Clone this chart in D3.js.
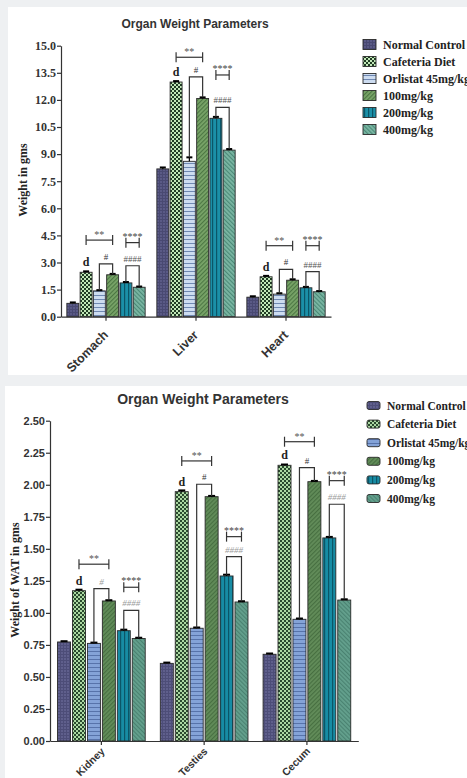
<!DOCTYPE html>
<html><head><meta charset="utf-8">
<script src="https://cdn.jsdelivr.net/npm/d3@7"></script>
<style>
html,body{margin:0;padding:0;background:#eef0f2;}
svg{display:block;}
</style></head><body>
<svg id="c" width="467" height="778"></svg>
<script>
// Treatment groups (legend order)
const seriesNames = ["Normal Control", "Cafeteria Diet", "Orlistat 45mg/kg", "100mg/kg", "200mg/kg", "400mg/kg"];

// Panel A: organ weights (g)
const organsA = ["Stomach", "Liver", "Heart"];
const normalA = [0.74, 8.18, 1.08];
const cafeteriaA = [2.46, 12.99, 2.21];
const orlistatA = [1.43, 8.60, 1.25];
const dose100A = [2.32, 12.08, 2.02];
const dose200A = [1.87, 10.98, 1.60];
const dose400A = [1.63, 9.22, 1.38];
const errA = [[0.05, 0.08, 0.05], [0.05, 0.05, 0.05], [0.04, 0.22, 0.05], [0.05, 0.06, 0.05], [0.05, 0.08, 0.05], [0.04, 0.06, 0.04]];
const ticksA = [0, 1.5, 3, 4.5, 6, 7.5, 9, 10.5, 12, 13.5, 15];
// significance bracket levels (g)
const starLevelA = [4.24, 14.36, 3.93];
const star4LevelA = [4.10, 13.38, 3.93];
const hashLevelA = [2.92, 13.28, 2.62];
const hash4LevelA = [2.82, 11.59, 2.49];

// Panel B: WAT weights (g)
const organsB = ["Kidney", "Testies", "Cecum"];
const normalB = [0.773, 0.606, 0.677];
const cafeteriaB = [1.173, 1.946, 2.152];
const orlistatB = [0.762, 0.880, 0.950];
const dose100B = [1.093, 1.907, 2.024];
const dose200B = [0.861, 1.288, 1.585];
const dose400B = [0.800, 1.085, 1.100];
const errB = [[0.006, 0.006, 0.006], [0.008, 0.010, 0.006], [0.006, 0.006, 0.006], [0.006, 0.006, 0.006], [0.008, 0.010, 0.008], [0.006, 0.006, 0.006]];
const ticksB = [0, 0.25, 0.5, 0.75, 1, 1.25, 1.5, 1.75, 2, 2.25, 2.5];
const starLevelB = [1.38, 2.186, 2.336];
const star4LevelB = [1.20, 1.595, 2.032];
const hashLevelB = [1.19, 2.004, 2.133];
const hash4LevelB = [1.02, 1.439, 1.848];

const svg = d3.select("#c");
svg.append("rect").attr("width", 467).attr("height", 778).attr("fill", "#eef0f2");
const defs = svg.append("defs");

function makePatterns(prefix, c) {
  // Normal control: fine grid texture
  let p = defs.append("pattern").attr("id", prefix + "0").attr("patternUnits", "userSpaceOnUse").attr("width", 3).attr("height", 3);
  p.append("rect").attr("width", 3).attr("height", 3).attr("fill", c.nc);
  p.append("rect").attr("width", 3).attr("height", 1).attr("fill", c.ncLine);
  p.append("rect").attr("width", 1).attr("height", 3).attr("fill", c.ncLine);
  // Cafeteria diet: checkerboard
  p = defs.append("pattern").attr("id", prefix + "1").attr("patternUnits", "userSpaceOnUse").attr("width", 4).attr("height", 4);
  p.append("rect").attr("width", 4).attr("height", 4).attr("fill", c.cdLight);
  p.append("rect").attr("width", 2).attr("height", 2).attr("fill", c.cdDark);
  p.append("rect").attr("x", 2).attr("y", 2).attr("width", 2).attr("height", 2).attr("fill", c.cdDark);
  // Orlistat: horizontal stripes
  p = defs.append("pattern").attr("id", prefix + "2").attr("patternUnits", "userSpaceOnUse").attr("width", 4).attr("height", 4);
  p.append("rect").attr("width", 4).attr("height", 4).attr("fill", c.orl);
  p.append("rect").attr("y", 3).attr("width", 4).attr("height", 1.1).attr("fill", c.orlLine);
  // 100 mg/kg: diagonal hatch
  p = defs.append("pattern").attr("id", prefix + "3").attr("patternUnits", "userSpaceOnUse").attr("width", 3).attr("height", 3).attr("patternTransform", "rotate(45)");
  p.append("rect").attr("width", 3).attr("height", 3).attr("fill", c.d100);
  p.append("rect").attr("width", 1.1).attr("height", 3).attr("fill", c.d100Line);
  // 200 mg/kg: vertical stripes
  p = defs.append("pattern").attr("id", prefix + "4").attr("patternUnits", "userSpaceOnUse").attr("width", 4).attr("height", 4);
  p.append("rect").attr("width", 4).attr("height", 4).attr("fill", c.d200);
  p.append("rect").attr("width", 1.2).attr("height", 4).attr("fill", c.d200Line);
  // 400 mg/kg: opposite diagonal hatch
  p = defs.append("pattern").attr("id", prefix + "5").attr("patternUnits", "userSpaceOnUse").attr("width", 3).attr("height", 3).attr("patternTransform", "rotate(-45)");
  p.append("rect").attr("width", 3).attr("height", 3).attr("fill", c.d400);
  p.append("rect").attr("width", 1.1).attr("height", 3).attr("fill", c.d400Line);
}

makePatterns("pa", {
  nc: "#5a5a86", ncLine: "#494972", cdLight: "#c2e8b8", cdDark: "#203c24",
  orl: "#cddcf0", orlLine: "#6f88b2", d100: "#78a468", d100Line: "#4c7743",
  d200: "#1b90a8", d200Line: "#0b5668", d400: "#7ab6a3", d400Line: "#4c8a78"
});
makePatterns("pb", {
  nc: "#5f5f8c", ncLine: "#4d4d78", cdLight: "#acd8a2", cdDark: "#2a4a2e",
  orl: "#84a3d8", orlLine: "#5773aa", d100: "#628c59", d100Line: "#476f41",
  d200: "#178ca4", d200Line: "#0b5668", d400: "#63a08d", d400Line: "#4a8271"
});

function drawChart(cfg) {
  const g = svg.append("g");
  g.append("rect").attr("x", cfg.panel[0]).attr("y", cfg.panel[1]).attr("width", cfg.panel[2]).attr("height", cfg.panel[3]).attr("fill", "#fff");

  g.append("text").attr("x", cfg.titleX).attr("y", cfg.titleY).attr("text-anchor", "middle")
    .attr("font-family", "Liberation Sans, Arial, sans-serif").attr("font-weight", "bold")
    .attr("font-size", cfg.titleSize).attr("fill", "#333").text("Organ Weight Parameters");

  const y = d3.scaleLinear().domain([0, cfg.max]).range([cfg.yBottom, cfg.yTop]);
  const x = d3.scaleBand().domain(cfg.groups).range([cfg.x0, cfg.x1]).paddingInner(cfg.padIn).paddingOuter(cfg.padOut);
  const xs = d3.scaleBand().domain(d3.range(seriesNames.length)).range([0, x.bandwidth()]).paddingInner(cfg.barPad);
  const cx = (gi, si) => x(cfg.groups[gi]) + xs(si) + xs.bandwidth() / 2;

  // y axis
  const ya = g.append("g").attr("transform", `translate(${cfg.x0},0)`)
    .call(d3.axisLeft(y).tickValues(cfg.ticks).tickFormat(cfg.fmt).tickSize(4).tickSizeOuter(0).tickPadding(1));
  ya.select(".domain").attr("stroke", "#333").attr("stroke-width", 1.2);
  ya.selectAll(".tick line").attr("stroke", "#333").attr("stroke-width", 1.2);
  ya.selectAll(".tick text").attr("font-family", cfg.tickFont).attr("font-weight", "bold")
    .attr("font-size", cfg.tickSize).attr("fill", "#333");

  g.append("text").attr("transform", `translate(${cfg.yTitleX},${cfg.yTitleY}) rotate(-90)`)
    .attr("text-anchor", "middle").attr("font-family", "Liberation Serif, Times New Roman, serif")
    .attr("font-weight", "bold").attr("font-size", 12).attr("fill", "#222").text(cfg.yTitle);

  // bars
  cfg.values.forEach((vals, si) => {
    vals.forEach((v, gi) => {
      const bx = x(cfg.groups[gi]) + xs(si);
      g.append("rect").attr("x", bx).attr("y", y(v)).attr("width", xs.bandwidth())
        .attr("height", y(0) - y(v)).attr("fill", `url(#${cfg.prefix}${si})`)
        .attr("stroke", "#2a2a2a").attr("stroke-width", 0.9);
      const e = cfg.errs[si][gi];
      const c = cx(gi, si);
      g.append("line").attr("x1", c).attr("x2", c).attr("y1", y(v)).attr("y2", y(v + e)).attr("stroke", "#000").attr("stroke-width", 1.2);
      g.append("line").attr("x1", c - cfg.capW / 2).attr("x2", c + cfg.capW / 2).attr("y1", y(v + e)).attr("y2", y(v + e))
        .attr("stroke", "#000").attr("stroke-width", 2);
    });
  });

  // x axis
  const xa = g.append("g").attr("transform", `translate(0,${cfg.yBottom})`)
    .call(d3.axisBottom(x).tickSize(4).tickSizeOuter(0));
  xa.select(".domain").attr("stroke", "#333").attr("stroke-width", 1.2);
  xa.selectAll(".tick line").attr("stroke", "#333").attr("stroke-width", 1.2);
  xa.selectAll(".tick text").attr("y", 0).attr("dy", 0).attr("text-anchor", "end")
    .attr("transform", `translate(${cfg.xLabDx},${cfg.xLabDy}) rotate(-45)`)
    .attr("font-family", "Liberation Sans, Arial, sans-serif").attr("font-weight", "bold")
    .attr("font-size", cfg.xLabSize).attr("fill", "#333");

  // significance marks
  const serif = "Liberation Serif, Times New Roman, serif";
  const line = (pts) => g.append("path").attr("d", d3.line()(pts)).attr("fill", "none").attr("stroke", "#333").attr("stroke-width", 1.2);
  const label = (tx, ty, t, size, fill, italic, bold) => g.append("text").attr("x", tx).attr("y", ty).attr("text-anchor", "middle")
    .attr("font-family", serif).attr("font-size", size).attr("fill", fill)
    .attr("font-style", italic ? "italic" : "normal").attr("font-weight", bold ? "bold" : "normal").text(t);

  cfg.groups.forEach((grp, gi) => {
    const val = (si) => cfg.values[si][gi];
    const top = (si) => y(val(si) + cfg.errs[si][gi]);
    // ** bracket
    const sy = y(cfg.star[gi]);
    const sx1 = cx(gi, 1), sx2 = cx(gi, 3);
    line([[sx1, sy], [sx2, sy]]);
    line([[sx1, sy - 5], [sx1, sy + 5]]);
    line([[sx2, sy - 5], [sx2, sy + 5]]);
    label((sx1 + sx2) / 2, sy - 2, "**", 10, "#555", false, false);
    // **** bracket
    const s4 = y(cfg.star4[gi]);
    const s4x1 = cx(gi, 4), s4x2 = cx(gi, 5);
    line([[s4x1, s4], [s4x2, s4]]);
    line([[s4x1, s4 - 5], [s4x1, s4 + 5]]);
    line([[s4x2, s4 - 5], [s4x2, s4 + 5]]);
    label((s4x1 + s4x2) / 2, s4 - 3, "****", 10, "#444", false, false);
    // d above cafeteria diet
    label(cx(gi, 1), y(val(1)) - 6, "d", 12, "#222", false, true);
    // # : orlistat vs 100 mg/kg
    const hy = y(cfg.hash[gi]);
    line([[cx(gi, 2), top(2)], [cx(gi, 2), hy], [cx(gi, 3), hy], [cx(gi, 3), top(3)]]);
    const hf = cfg.hashFaded[gi];
    label((cx(gi, 2) + cx(gi, 3)) / 2, hy - 4, "#", 9, hf ? "#9a9a9a" : "#333", hf, false);
    // #### : 200 vs 400 mg/kg
    const h4 = y(cfg.hash4[gi]);
    line([[cx(gi, 4), top(4)], [cx(gi, 4), h4], [cx(gi, 5), h4], [cx(gi, 5), top(5)]]);
    label((cx(gi, 4) + cx(gi, 5)) / 2, h4 - 4, "####", 9, cfg.hash4Faded ? "#9a9a9a" : "#555", cfg.hash4Faded, false);
  });

  // legend
  const lg = g.append("g");
  seriesNames.forEach((s, si) => {
    const ly = cfg.legY + si * cfg.legDy;
    lg.append("rect").attr("x", cfg.legX).attr("y", ly - cfg.legH / 2).attr("width", 13).attr("height", cfg.legH)
      .attr("rx", cfg.legRx).attr("fill", `url(#${cfg.prefix}${si})`).attr("stroke", "#2a2a2a").attr("stroke-width", 0.9);
    lg.append("text").attr("x", cfg.legX + 20).attr("y", ly).attr("dy", "0.35em")
      .attr("font-family", serif).attr("font-weight", "bold").attr("font-size", cfg.legSize).attr("fill", "#222")
      .text(cfg.legNames[si]);
  });
}

drawChart({
  prefix: "pa", panel: [8, 7, 459, 368],
  titleX: 195, titleY: 27.5, titleSize: 12,
  groups: organsA, values: [normalA, cafeteriaA, orlistatA, dose100A, dose200A, dose400A], errs: errA,
  max: 15, yTop: 45.7, yBottom: 316.7, x0: 61, x1: 331, padIn: 0.13, padOut: 0.065, barPad: 0.1,
  ticks: ticksA, fmt: d3.format(".1f"), tickFont: "Liberation Serif, Times New Roman, serif", tickSize: 12,
  yTitle: "Weight in gms", yTitleX: 27, yTitleY: 180,
  xLabDx: 3, xLabDy: 19, xLabSize: 12.5, capW: 6,
  star: starLevelA, star4: star4LevelA, hash: hashLevelA, hash4: hash4LevelA,
  hashFaded: [false, false, false], hash4Faded: false,
  legX: 363, legY: 44.5, legDy: 17, legH: 10, legRx: 0, legSize: 12,
  legNames: seriesNames
});

drawChart({
  prefix: "pb", panel: [5, 386, 462, 392],
  titleX: 203, titleY: 403.5, titleSize: 14,
  groups: organsB, values: [normalB, cafeteriaB, orlistatB, dose100B, dose200B, dose400B], errs: errB,
  max: 2.5, yTop: 420.7, yBottom: 741, x0: 50, x1: 358.3, padIn: 0.147, padOut: 0.0735, barPad: 0.13,
  ticks: ticksB, fmt: d3.format(".2f"), tickFont: "Liberation Sans, Arial, sans-serif", tickSize: 11,
  yTitle: "Weight of WAT in gms", yTitleX: 19, yTitleY: 580,
  xLabDx: 4, xLabDy: 11, xLabSize: 10.5, capW: 7,
  star: starLevelB, star4: star4LevelB, hash: hashLevelB, hash4: hash4LevelB,
  hashFaded: [true, false, false], hash4Faded: true,
  legX: 367, legY: 405.5, legDy: 18.6, legH: 8, legRx: 2, legSize: 11.5,
  legNames: ["Normal Control", "Cafeteria Diet", "Orlistat 45mg/kg", "100mg/kg", "200mg/kg", "400mg/kg"]
});
</script>
</body></html>
